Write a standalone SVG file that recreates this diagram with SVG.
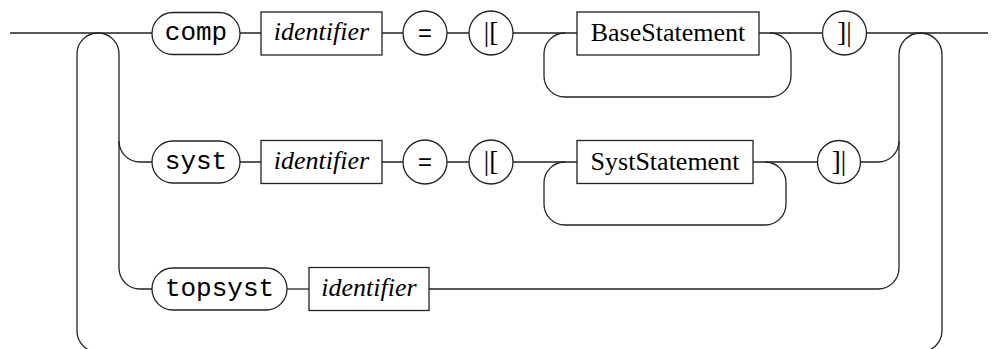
<svg xmlns="http://www.w3.org/2000/svg" width="998" height="349" viewBox="0 0 998 349">
  <style>
    .ln { fill: none; stroke: #222; stroke-width: 1.3; }
    .term { fill: #fff; stroke: #222; stroke-width: 1.3; }
    .nt { fill: #fff; stroke: #222; stroke-width: 1.3; }
    .kw { font-family: "Liberation Mono", "Courier New", monospace; font-size: 26px; text-anchor: middle; fill: #000; }
    .id { font-family: "Liberation Serif", "Times New Roman", serif; font-style: italic; font-size: 26px; text-anchor: middle; fill: #000; }
    .rule { font-family: "Liberation Serif", "Times New Roman", serif; font-size: 26px; text-anchor: middle; fill: #000; }
    .sym { font-family: "Liberation Serif", "Times New Roman", serif; font-size: 27px; text-anchor: middle; fill: #000; }
    .eq { font-family: "Liberation Mono", "Courier New", monospace; font-size: 24px; text-anchor: middle; fill: #000; }
  </style>

  <!-- connectors -->
  <g id="connectors">
    <!-- first row: main track -->
    <path class="ln" d="M10,33 H152 M240,33 H261 M382,33 H403 M447,33 H469 M513,33 H577 M759,33 H823 M866,33 H988"/>
    <!-- outer repeat loop -->
    <path class="ln" d="M119,54 A21,21 0 0 0 77,54 L77,331 A21,21 0 0 0 98,352 L920.5,352 A21.5,21.5 0 0 0 942,330.5 L942,54.5 A21.5,21.5 0 0 0 899,54.5"/>
    <!-- choice branches on the left -->
    <path class="ln" d="M119,54 L119,268 A21,21 0 0 0 140,289 L152,289"/>
    <path class="ln" d="M119,141 A21,21 0 0 0 140,162 L152,162"/>
    <!-- choice branches on the right -->
    <path class="ln" d="M899,54.5 L899,268 A21,21 0 0 1 878,289 L429,289"/>
    <path class="ln" d="M899,141 A21,21 0 0 1 878,162 L860,162"/>
    <!-- BaseStatement repetition -->
    <path class="ln" d="M565,33 A21,21 0 0 0 544,54 L544,76 A21,21 0 0 0 565,97 L770,97 A21,21 0 0 0 791,76 L791,54 A21,21 0 0 0 770,33"/>
    <!-- second row track -->
    <path class="ln" d="M240,162 H261 M382,162 H403 M447,162 H469 M513,162 H577 M753,162 H818"/>
    <!-- SystStatement repetition -->
    <path class="ln" d="M565,162 A21,21 0 0 0 544,183 L544,204 A21,21 0 0 0 565,225 L765,225 A21,21 0 0 0 786,204 L786,183 A21,21 0 0 0 765,162"/>
    <!-- third row track -->
    <path class="ln" d="M287,289 H309"/>
  </g>

  <!-- first row -->
  <g id="comp">
    <rect class="term" x="152" y="12.5" width="88" height="42" rx="21" ry="21"/>
    <text class="kw" x="196" y="40">comp</text>
  </g>
  <g id="comp-identifier">
    <rect class="nt" x="261" y="12" width="121" height="43"/>
    <text class="id" x="321.5" y="40">identifier</text>
  </g>
  <g id="comp-eq">
    <circle class="term" cx="425" cy="33" r="22"/>
    <text class="eq" x="425" y="41">=</text>
  </g>
  <g id="comp-open">
    <circle class="term" cx="491" cy="33" r="22"/>
    <text class="sym" x="491" y="41">|[</text>
  </g>
  <g id="base-statement">
    <rect class="nt" x="577" y="12" width="182" height="43"/>
    <text class="rule" x="668" y="41">BaseStatement</text>
  </g>
  <g id="comp-close">
    <circle class="term" cx="844.5" cy="33" r="22"/>
    <text class="sym" x="844.5" y="41">]|</text>
  </g>

  <!-- second row -->
  <g id="syst">
    <rect class="term" x="152" y="141" width="88" height="42" rx="21" ry="21"/>
    <text class="kw" x="196" y="169">syst</text>
  </g>
  <g id="syst-identifier">
    <rect class="nt" x="261" y="140.5" width="121" height="43"/>
    <text class="id" x="321.5" y="169">identifier</text>
  </g>
  <g id="syst-eq">
    <circle class="term" cx="425" cy="162" r="22"/>
    <text class="eq" x="425" y="170">=</text>
  </g>
  <g id="syst-open">
    <circle class="term" cx="491" cy="162" r="22"/>
    <text class="sym" x="491" y="170">|[</text>
  </g>
  <g id="syst-statement">
    <rect class="nt" x="577" y="140.5" width="176" height="43"/>
    <text class="rule" x="665" y="170">SystStatement</text>
  </g>
  <g id="syst-close">
    <circle class="term" cx="839" cy="162" r="21.5"/>
    <text class="sym" x="839" y="170">]|</text>
  </g>

  <!-- third row -->
  <g id="topsyst">
    <rect class="term" x="152" y="268" width="135" height="42" rx="21" ry="21"/>
    <text class="kw" x="219.5" y="296">topsyst</text>
  </g>
  <g id="topsyst-identifier">
    <rect class="nt" x="309" y="267.5" width="120" height="43"/>
    <text class="id" x="369" y="296">identifier</text>
  </g>
</svg>
